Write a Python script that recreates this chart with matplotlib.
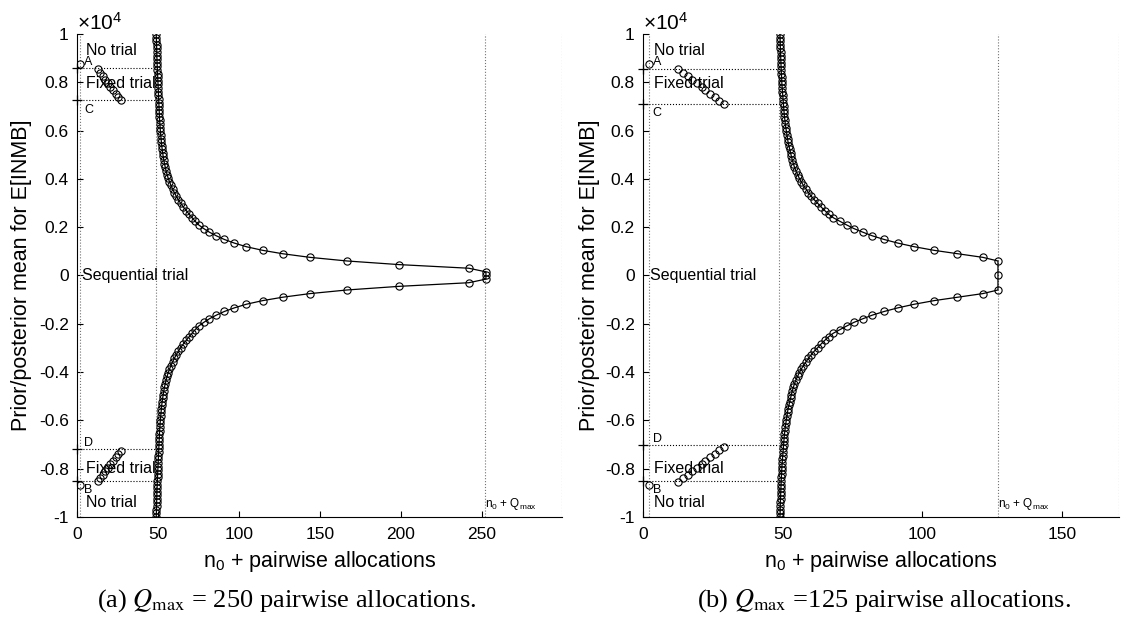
import matplotlib.pyplot as plt

plt.rcParams['font.family'] = 'Liberation Sans'
plt.rcParams['mathtext.fontset'] = 'custom'
plt.rcParams['mathtext.rm'] = 'Liberation Sans'
plt.rcParams['mathtext.it'] = 'Liberation Sans:italic'
plt.rcParams['mathtext.bf'] = 'Liberation Sans:bold'

# prior/posterior mean values (units of 1e4), upper half; lower half is the mirror image
mean_grid_left = [0.000, 0.015, 0.030, 0.045, 0.060, 0.075, 0.090, 0.104, 0.119, 0.134,
                  0.149, 0.164, 0.179, 0.194, 0.209, 0.224, 0.239, 0.254, 0.269, 0.284,
                  0.299, 0.313, 0.328, 0.343, 0.358, 0.373, 0.388, 0.403, 0.418, 0.433,
                  0.448, 0.463, 0.478, 0.493, 0.507, 0.522, 0.537, 0.552, 0.567, 0.582,
                  0.597, 0.612, 0.627, 0.642, 0.657, 0.672, 0.687, 0.701, 0.716, 0.731,
                  0.746, 0.761, 0.776, 0.791, 0.806, 0.821, 0.836, 0.851, 0.866, 0.881,
                  0.896, 0.910, 0.925, 0.940, 0.955, 0.970, 0.985, 1.000]
n_bound_left = [252.5, 252.5, 241.9, 198.9, 166.8, 143.9, 127.0, 114.7, 104.6, 97.2,
                91.0, 86.1, 81.8, 78.3, 75.2, 73.0, 71.1, 69.2, 67.4, 65.6,
                64.0, 62.6, 61.3, 60.1, 59.0, 58.0, 57.1, 56.3, 55.6, 55.0,
                54.5, 54.0, 53.6, 53.2, 52.9, 52.6, 52.3, 52.1, 51.9, 51.7,
                51.5, 51.3, 51.2, 51.0, 50.9, 50.8, 50.7, 50.6, 50.5, 50.4,
                50.3, 50.2, 50.1, 50.0, 49.9, 49.8, 49.7, 49.6, 49.5, 49.45,
                49.4, 49.3, 49.25, 49.2, 49.1, 49.05, 49.0, 48.9]

mean_grid_right = [0.000, 0.060, 0.075, 0.090, 0.104, 0.119, 0.134,
                   0.149, 0.164, 0.179, 0.194, 0.209, 0.224, 0.239, 0.254, 0.269, 0.284,
                   0.299, 0.313, 0.328, 0.343, 0.358, 0.373, 0.388, 0.403, 0.418, 0.433,
                   0.448, 0.463, 0.478, 0.493, 0.507, 0.522, 0.537, 0.552, 0.567, 0.582,
                   0.597, 0.612, 0.627, 0.642, 0.657, 0.672, 0.687, 0.701, 0.716, 0.731,
                   0.746, 0.761, 0.776, 0.791, 0.806, 0.821, 0.836, 0.851, 0.866, 0.881,
                   0.896, 0.910, 0.925, 0.940, 0.955, 0.970, 0.985, 1.000]
n_bound_right = [127.0, 127.0, 121.6, 112.5, 104.2, 97.1, 91.2,
                 86.3, 82.1, 78.7, 75.5, 72.9, 70.5, 68.1, 66.4, 65.0, 63.7,
                 62.5, 61.3, 60.2, 59.2, 58.3, 57.4, 56.6, 55.9, 55.3, 54.7,
                 54.2, 53.8, 53.4, 53.1, 52.8, 52.5, 52.2, 51.9, 51.7, 51.5,
                 51.3, 51.1, 50.9, 50.8, 50.6, 50.5, 50.4, 50.3, 50.2, 50.1,
                 50.0, 49.9, 49.8, 49.7, 49.65, 49.6, 49.5, 49.45, 49.4, 49.35,
                 49.3, 49.25, 49.2, 49.15, 49.1, 49.1, 49.05, 49.0]

# fixed trial sample sizes
fixed_n_left = [12.9, 14.5, 16.0, 17.5, 19.0, 20.6, 22.2, 23.8, 25.4, 26.9]
fixed_mean_left = [0.853, 0.839, 0.825, 0.810, 0.796, 0.782, 0.767, 0.753, 0.739, 0.726]
fixed_n_right = [12.5, 14.3, 16.1, 17.5, 19.3, 21.1, 22.1, 23.9, 25.7, 27.1, 28.9]
fixed_mean_right = [0.854, 0.840, 0.825, 0.811, 0.796, 0.782, 0.767, 0.753, 0.738, 0.724, 0.709]

# thresholds A, C (upper) and D, B (lower)
thresholds_left = [0.858, 0.725, -0.719, -0.853]
thresholds_right = [0.854, 0.709, -0.704, -0.853]
no_trial_mean = [0.877, -0.867]

n0 = 2
q_max = [250, 125]
n_asym = [48.5, 48.8]
x_max = [299.5, 170.3]
x_ticks = [[0, 50, 100, 150, 200, 250], [0, 50, 100, 150]]
y_ticks = [-1, -0.8, -0.6, -0.4, -0.2, 0, 0.2, 0.4, 0.6, 0.8, 1]
y_tick_labels = ['-1', '-0.8', '-0.6', '-0.4', '-0.2', '0', '0.2', '0.4', '0.6', '0.8', '1']
captions = [r'(a) $Q_{\mathrm{max}}$ = 250 pairwise allocations.',
            r'(b) $Q_{\mathrm{max}}$ =125 pairwise allocations.']


def draw_panel(ax, n_bound, mean_bound, fixed_n, fixed_mean, thr, qmax, asym, xmax, xt):
    mk = dict(marker='o', ms=5.2, mfc='none', mec='k', mew=0.8)

    # reference lines
    for v in [n0, asym, n0 + qmax, xmax]:
        ax.plot([v, v], [-1, 1], ':', color='0.45', lw=0.8)
    for t in thr:
        ax.plot([0, asym], [t, t], ':', color='k', lw=0.8)
        ax.plot([0], [t], '+', color='k', ms=7, mew=0.9, clip_on=False)

    # sequential boundary
    xs = n_bound[::-1] + n_bound[1:]
    ys = [-m for m in mean_bound[::-1]] + mean_bound[1:]
    ax.plot(xs, ys, '-', color='k', lw=0.9, **mk)

    # fixed trial sizes
    ax.plot(fixed_n, fixed_mean, ls='none', **mk)
    ax.plot(fixed_n, [-m for m in fixed_mean], ls='none', **mk)
    ax.plot([n0, n0], no_trial_mean, ls='none', **mk)

    # region labels
    small = dict(fontsize=9, ha='left', va='center', textcoords='offset points')
    ax.annotate('A', (n0, no_trial_mean[0] + 0.005), xytext=(3, 0), **small)
    ax.annotate('C', (n0, thr[1] - 0.038), xytext=(3, 0), **small)
    ax.annotate('D', (n0, thr[2] + 0.025), xytext=(3, 0), **small)
    ax.annotate('B', (n0, no_trial_mean[1] - 0.023), xytext=(3, 0), **small)
    big = dict(fontsize=11.5, ha='left', va='center', textcoords='offset points')
    ax.annotate('No trial', (n0, 0.93), xytext=(4, 0), **big)
    ax.annotate('Fixed trial', (n0, 0.796), xytext=(4, 0), **big)
    ax.annotate('Sequential trial', (n0, 0.0), xytext=(1, 0), **big)
    ax.annotate('Fixed trial', (n0, -0.80), xytext=(4, 0), **big)
    ax.annotate('No trial', (n0, -0.94), xytext=(4, 0), **big)
    ax.text(n0 + qmax, -0.945, r'n$_0$ + Q$_{\mathrm{max}}$', fontsize=8.5,
            ha='left', va='center')

    ax.set_xlim(0, xmax)
    ax.set_ylim(-1, 1)
    ax.set_xticks(xt)
    ax.set_yticks(y_ticks)
    ax.set_yticklabels(y_tick_labels)
    ax.spines['top'].set_visible(False)
    ax.spines['right'].set_visible(False)
    ax.tick_params(direction='in', length=4, width=0.8, labelsize=12.5)
    ax.tick_params(axis='x', pad=7)
    ax.tick_params(axis='y', pad=6)
    ax.text(0, 1.0, r'$\times$10$^4$', transform=ax.transAxes, ha='left',
            va='bottom', fontsize=15)
    ax.set_xlabel(r'n$_0$ + pairwise allocations', fontsize=15.5, labelpad=5)
    ax.set_ylabel('Prior/posterior mean for E[INMB]', fontsize=15.5)
    ax.yaxis.set_label_coords(-0.093, 0.5)


fig = plt.figure(figsize=(11.21, 6.21), dpi=100)
ax1 = fig.add_axes([0.0687, 0.1675, 0.4327, 0.7778])
ax2 = fig.add_axes([0.5736, 0.1675, 0.4246, 0.7778])

draw_panel(ax1, n_bound_left, mean_grid_left, fixed_n_left, fixed_mean_left,
           thresholds_left, q_max[0], n_asym[0], x_max[0], x_ticks[0])
draw_panel(ax2, n_bound_right, mean_grid_right, fixed_n_right, fixed_mean_right,
           thresholds_right, q_max[1], n_asym[1], x_max[1], x_ticks[1])
ax2.yaxis.set_label_coords(-0.09, 0.5)

fig.text(0.256, 0.033, captions[0], fontsize=19, ha='center', va='center',
         family='Liberation Serif', math_fontfamily='stix')
fig.text(0.789, 0.033, captions[1], fontsize=19, ha='center', va='center',
         family='Liberation Serif', math_fontfamily='stix')

fig.savefig('out.png', dpi=100)
